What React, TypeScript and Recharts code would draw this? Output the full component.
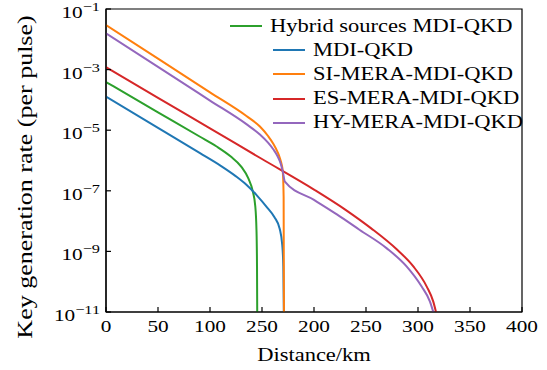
import {
    LineChart,
    Line,
    XAxis,
    YAxis,
    Legend,
    ReferenceArea,
} from "recharts";

// distance (km) and key rate (per pulse)
const hybridKm = [0, 50, 90, 106, 120, 130, 137, 141, 143.5, 144.7, 145.2, 145.4];
const hybridRate = [3.9e-4, 3.9e-5, 6.2e-6, 2.95e-6, 1.35e-6, 6.3e-7, 2.5e-7, 1e-7, 3.2e-8, 5e-9, 3.2e-10, 1e-11];

const mdiKm = [0, 50, 90, 110, 125, 135, 145, 155, 162, 167, 169.5, 170.5, 171];
const mdiRate = [1.29e-4, 1.2e-5, 1.78e-6, 6.8e-7, 3.0e-7, 1.58e-7, 7.1e-8, 2.8e-8, 1.35e-8, 5.6e-9, 1.6e-9, 3.2e-10, 1e-11];

const siKm = [0, 50, 100, 135, 148, 156, 161, 165, 167, 169, 170, 170.8, 171.1];
const siRate = [2.95e-2, 2.3e-3, 1.78e-4, 2.95e-5, 1.32e-5, 6.3e-6, 3.5e-6, 1.9e-6, 1.26e-6, 7.1e-7, 4.3e-7, 6.3e-8, 1e-11];

const esKm = [0, 50, 100, 150, 200, 230, 255, 279.5, 295.5, 308.4, 314.7, 317.3];
const esRate = [1.2e-3, 1.17e-4, 1.15e-5, 1.12e-6, 1.1e-7, 2.4e-8, 5.75e-9, 1.17e-9, 3.2e-10, 6.9e-11, 2.2e-11, 1e-11];

const hyKm = [0, 50, 100, 135, 148, 156, 161, 165, 168, 170, 172, 200, 222, 244, 270, 289, 303.5, 311.5, 314.7];
const hyRate = [1.58e-2, 1.23e-3, 9.5e-5, 1.58e-5, 7.2e-6, 3.8e-6, 2.3e-6, 1.38e-6, 7.9e-7, 4.3e-7, 2.0e-7, 5.0e-8, 1.66e-8, 5.1e-9, 1.26e-9, 3.2e-10, 6.9e-11, 2.2e-11, 1e-11];

const X_TICKS = [0, 50, 100, 150, 200, 250, 300, 350, 400];
// the source figure prints "250" under the 150 tick
const X_TICK_LABELS = ["0", "50", "100", "250", "200", "250", "300", "350", "400"];

const Y_TICKS = [1e-11, 1e-9, 1e-7, 1e-5, 1e-3, 1e-1];
const Y_TICK_EXPONENTS = ["\u221211", "\u22129", "\u22127", "\u22125", "\u22123", "\u22121"];

const FONT = "'Liberation Serif', serif";
const STRETCH = 1.25;

const toPoints = (km: number[], rate: number[]) =>
    km.map((x, i) => ({ x, y: rate[i] }));

const SERIES = [
    { name: "Hybrid sources MDI-QKD", color: "#2ca02c", data: toPoints(hybridKm, hybridRate) },
    { name: "MDI-QKD", color: "#1f77b4", data: toPoints(mdiKm, mdiRate) },
    { name: "SI-MERA-MDI-QKD", color: "#ff7f0e", data: toPoints(siKm, siRate) },
    { name: "ES-MERA-MDI-QKD", color: "#d62728", data: toPoints(esKm, esRate) },
    { name: "HY-MERA-MDI-QKD", color: "#9467bd", data: toPoints(hyKm, hyRate) },
];

const XTick = (props: any) => {
    const { x, y, index } = props;
    return (
        <g transform={`translate(${x},${y + 25}) scale(${STRETCH},1)`}>
            <text x={0} y={0} textAnchor="middle" fontFamily={FONT} fontSize={17} fill="#000">
                {X_TICK_LABELS[index]}
            </text>
        </g>
    );
};

const YTick = (props: any) => {
    const { x, y, index } = props;
    return (
        <g transform={`translate(${x},${y + 9}) scale(${STRETCH},1)`}>
            <text x={0} y={0} textAnchor="end" fontFamily={FONT} fontSize={17} fill="#000">
                <tspan>10</tspan>
                <tspan dy={-7} fontSize={13}>{Y_TICK_EXPONENTS[index]}</tspan>
            </text>
        </g>
    );
};

const order = (name: string) => SERIES.findIndex((s) => s.name === name);

const LegendBox = (props: any) => {
    const items = [...(props.payload || [])].sort(
        (a: any, b: any) => order(a.value) - order(b.value)
    );
    return (
        <div style={{ fontFamily: FONT, fontSize: 18, color: "#000" }}>
            {items.map((entry: any, i: number) => (
                <div
                    key={entry.value}
                    style={{
                        display: "flex",
                        alignItems: "center",
                        height: 24.2,
                        paddingLeft: i === 0 ? 0 : 43,
                        whiteSpace: "nowrap",
                    }}
                >
                    <svg width={32} height={4} style={{ marginRight: 8 }}>
                        <line x1={0} y1={2} x2={32} y2={2} stroke={entry.color} strokeWidth={2} />
                    </svg>
                    <span
                        style={{
                            display: "inline-block",
                            transform: `scaleX(${STRETCH})`,
                            transformOrigin: "left center",
                        }}
                    >
                        {entry.value}
                    </span>
                </div>
            ))}
        </div>
    );
};

const App = () => {
    return (
        <div style={{ position: "absolute", left: 0, top: 0, background: "#fff" }}>
            <LineChart
                width={547}
                height={370}
                margin={{ top: 9, right: 25, bottom: 0, left: 0 }}
            >
                <XAxis
                    type="number"
                    dataKey="x"
                    domain={[0, 400]}
                    ticks={X_TICKS}
                    height={58}
                    tickSize={-5}
                    tickMargin={0}
                    tick={<XTick />}
                    stroke="#000"
                    strokeWidth={1.2}
                    allowDataOverflow
                    label={{
                        content: () => (
                            <g transform={`translate(314,361) scale(${STRETCH},1)`}>
                                <text x={0} y={0} textAnchor="middle" fontFamily={FONT} fontSize={18} fill="#000">
                                    Distance/km
                                </text>
                            </g>
                        ),
                    }}
                />
                <YAxis
                    type="number"
                    dataKey="y"
                    scale="log"
                    domain={[1e-11, 1e-1]}
                    ticks={Y_TICKS}
                    width={106}
                    tickSize={-5}
                    tickMargin={11}
                    tick={<YTick />}
                    stroke="#000"
                    strokeWidth={1.2}
                    allowDataOverflow
                    label={{
                        content: () => (
                            <g transform="translate(32,177) rotate(-90) scale(1.3,1)">
                                <text x={0} y={0} textAnchor="middle" fontFamily={FONT} fontSize={20} fill="#000">
                                    Key generation rate (per pulse)
                                </text>
                            </g>
                        ),
                    }}
                />
                <ReferenceArea
                    x1={0}
                    x2={400}
                    y1={1e-11}
                    y2={1e-1}
                    fill="none"
                    stroke="#000"
                    strokeWidth={1.2}
                    ifOverflow="extendDomain"
                />
                {SERIES.map((s) => (
                    <Line
                        key={s.name}
                        name={s.name}
                        data={s.data}
                        dataKey="y"
                        type="monotone"
                        stroke={s.color}
                        strokeWidth={2}
                        dot={false}
                        isAnimationActive={false}
                    />
                ))}
                <Legend
                    layout="vertical"
                    align="center"
                    verticalAlign="middle"
                    content={<LegendBox />}
                    wrapperStyle={{ left: 230, top: 14, width: 300 }}
                />
            </LineChart>
        </div>
    );
};

export default App;
